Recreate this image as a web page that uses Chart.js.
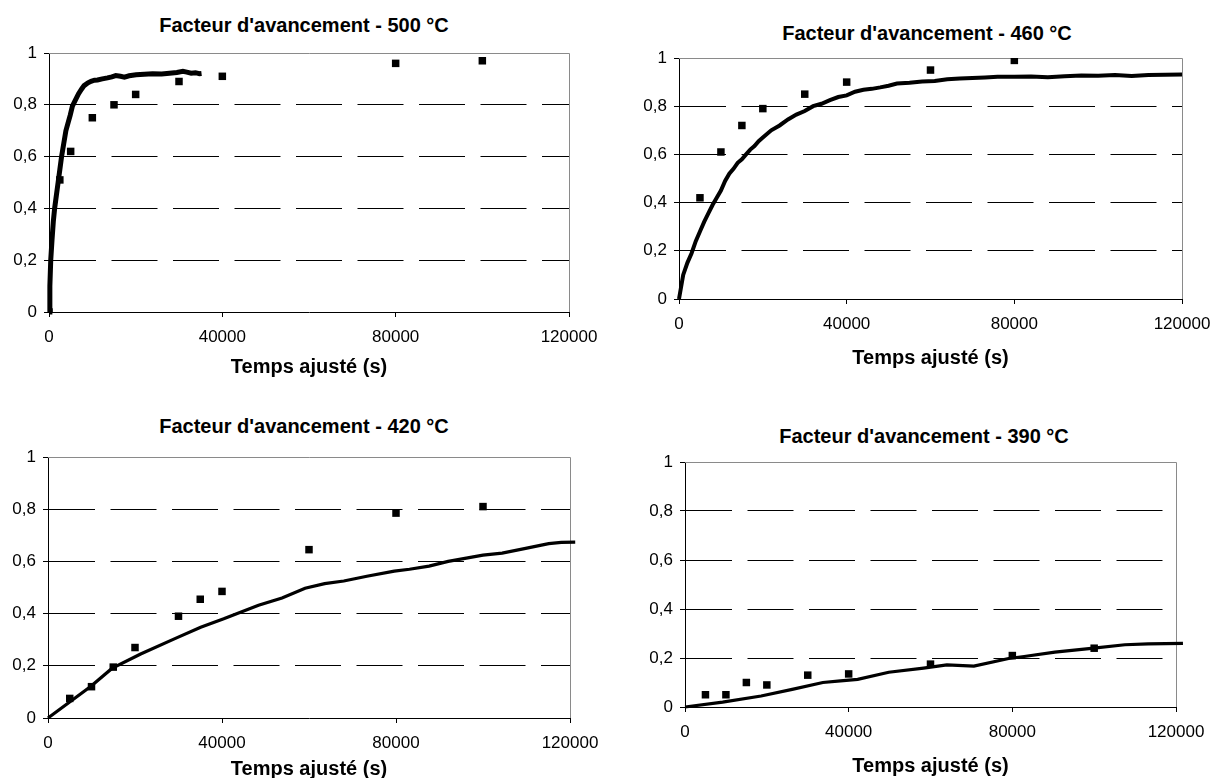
<!DOCTYPE html>
<html>
<head>
<meta charset="utf-8">
<script src="https://cdn.jsdelivr.net/npm/chart.js@4"></script>
<style>
    html, body { margin: 0; padding: 0; background: #fff; overflow: hidden; }
    body { width: 1212px; height: 778px; position: relative; }
    canvas { position: absolute; }
    .title {
        position: absolute;
        width: 500px;
        text-align: center;
        font: bold 20px 'Liberation Sans', Arial, sans-serif;
        line-height: 24px;
        color: #000;
        white-space: nowrap;
    }
</style>
</head>
<body>
<div class="title" id="title500"></div>
<div class="title" id="title460"></div>
<div class="title" id="title420"></div>
<div class="title" id="title390"></div>
<canvas id="chart500"></canvas>
<canvas id="chart460"></canvas>
<canvas id="chart420"></canvas>
<canvas id="chart390"></canvas>
<script>
// Axis ticks (shared by the four charts)
const xTicks = [0, 40000, 80000, 120000];
const yTickLabels = ['0', '0,2', '0,4', '0,6', '0,8', '1'];
const xAxisTitle = 'Temps ajusté (s)';

// 500 °C
const curve500Time = [0, 200, 400, 700, 1000, 1300, 1700, 2100, 2500, 2900, 3400, 3900, 4400, 4900, 5400, 6000, 6800, 7500, 8100, 9000, 9700, 10500, 11200, 12300, 13500, 14500, 15400, 16500, 17400, 18500, 20100, 22000, 23900, 26000, 27800, 29500, 30900, 31800, 32800, 33800, 34700, 35200];
const curve500Value = [0, 0.10, 0.20, 0.28, 0.35, 0.40, 0.45, 0.50, 0.55, 0.60, 0.65, 0.70, 0.73, 0.76, 0.795, 0.815, 0.842, 0.86, 0.874, 0.885, 0.891, 0.895, 0.896, 0.900, 0.904, 0.908, 0.913, 0.910, 0.907, 0.912, 0.916, 0.918, 0.920, 0.919, 0.922, 0.925, 0.929, 0.926, 0.922, 0.924, 0.920, 0.921];
const meas500Time = [0, 2500, 5000, 10000, 15000, 20000, 30000, 40000, 80000, 100000];
const meas500Value = [0, 0.51, 0.62, 0.75, 0.80, 0.84, 0.89, 0.91, 0.96, 0.97];

// 460 °C
const curve460Time = [0, 1000, 2000, 3000, 4000, 5000, 6000, 7000, 8000, 9000, 10000, 11000, 12000, 13000, 14000, 15000, 16000, 17000, 18000, 19000, 20000, 22000, 24000, 26000, 28000, 30000, 32000, 34000, 36000, 38000, 40000, 42000, 44000, 46000, 48000, 50000, 52000, 55000, 58000, 61000, 64000, 67000, 70000, 73000, 76000, 80000, 84000, 88000, 92000, 96000, 100000, 104000, 108000, 112000, 116000, 120000, 121500];
const curve460Value = [0, 0.10, 0.15, 0.19, 0.24, 0.28, 0.32, 0.355, 0.39, 0.42, 0.45, 0.49, 0.52, 0.54, 0.565, 0.58, 0.60, 0.62, 0.635, 0.655, 0.67, 0.70, 0.72, 0.745, 0.765, 0.78, 0.80, 0.81, 0.825, 0.838, 0.845, 0.86, 0.868, 0.872, 0.878, 0.885, 0.894, 0.897, 0.902, 0.905, 0.912, 0.915, 0.917, 0.919, 0.922, 0.922, 0.923, 0.920, 0.924, 0.927, 0.926, 0.929, 0.925, 0.929, 0.931, 0.932, 0.935];
const meas460Time = [5000, 10000, 15000, 20000, 30000, 40000, 60000, 80000];
const meas460Value = [0.42, 0.61, 0.72, 0.79, 0.85, 0.90, 0.95, 0.99];

// 420 °C
const curve420Time = [0, 9800, 14700, 21300, 29300, 35100, 40400, 48400, 53800, 59100, 63600, 68000, 73300, 79600, 83100, 87600, 92000, 100000, 104400, 109800, 115100, 118000, 121200];
const curve420Value = [0, 0.121, 0.19, 0.245, 0.305, 0.348, 0.38, 0.432, 0.46, 0.497, 0.515, 0.525, 0.543, 0.563, 0.570, 0.582, 0.600, 0.624, 0.632, 0.650, 0.668, 0.673, 0.674];
const meas420Time = [5000, 10000, 15000, 20000, 30000, 35000, 40000, 60000, 80000, 100000];
const meas420Value = [0.075, 0.12, 0.195, 0.27, 0.39, 0.455, 0.485, 0.645, 0.785, 0.81];

// 390 °C
const curve390Time = [0, 9200, 18600, 26200, 33700, 38000, 42200, 49800, 58300, 64000, 70600, 79100, 82900, 90400, 99900, 107500, 113200, 121700];
const curve390Value = [0, 0.02, 0.045, 0.072, 0.10, 0.107, 0.113, 0.142, 0.159, 0.172, 0.167, 0.198, 0.206, 0.224, 0.240, 0.254, 0.258, 0.26];
const meas390Time = [5000, 10000, 15000, 20000, 30000, 40000, 60000, 80000, 100000];
const meas390Value = [0.05, 0.05, 0.10, 0.09, 0.13, 0.135, 0.175, 0.21, 0.24];

Chart.defaults.font.family = "'Liberation Sans', Arial, sans-serif";
Chart.defaults.font.size = 17;
Chart.defaults.color = '#000';

const toPoints = (xs, ys) => xs.map((x, i) => ({x: x, y: ys[i]}));

// gray top and right edges of the plot area
const plotFrame = {
    id: 'plotFrame',
    beforeDatasetsDraw(chart) {
        const a = chart.chartArea;
        const ctx = chart.ctx;
        ctx.save();
        ctx.strokeStyle = '#8a8a8a';
        ctx.lineWidth = 1;
        ctx.beginPath();
        ctx.moveTo(a.left, Math.round(a.top) + 0.5);
        ctx.lineTo(Math.round(a.right) + 0.5, Math.round(a.top) + 0.5);
        ctx.lineTo(Math.round(a.right) + 0.5, a.bottom);
        ctx.stroke();
        ctx.restore();
    }
};

function makeChart(id, titleId, titleText, titleX, titleY, area, axisHeight, curve, meas, curveWidth) {
    const yAxisWidth = 44;
    const canvas = document.getElementById(id);
    const padL = 4, padT = 20, padR = 40;
    canvas.width = (area.right - area.left) + yAxisWidth + padL + padR;
    canvas.height = (area.bottom - area.top) + padT + axisHeight;
    canvas.style.left = (area.left - yAxisWidth - padL) + 'px';
    canvas.style.top = (area.top - padT) + 'px';

    const title = document.getElementById(titleId);
    title.textContent = titleText;
    title.style.left = (titleX - 250) + 'px';
    title.style.top = (titleY - 12) + 'px';

    new Chart(canvas.getContext('2d'), {
        type: 'scatter',
        data: {
            datasets: [
                {
                    label: 'modèle',
                    data: curve,
                    showLine: true,
                    borderColor: '#000',
                    borderWidth: curveWidth,
                    pointRadius: 0,
                    tension: 0,
                    clip: false
                },
                {
                    label: 'mesures',
                    data: meas,
                    pointStyle: 'rect',
                    pointRadius: 5.3,
                    backgroundColor: '#000',
                    borderWidth: 0
                }
            ]
        },
        options: {
            responsive: false,
            animation: false,
            layout: { padding: { left: padL, top: padT, right: padR, bottom: 0 } },
            plugins: {
                legend: { display: false },
                tooltip: { enabled: false }
            },
            scales: {
                x: {
                    type: 'linear',
                    min: 0,
                    max: 120000,
                    afterBuildTicks: scale => { scale.ticks = xTicks.map(v => ({value: v})); },
                    afterFit: scale => { scale.height = axisHeight; },
                    ticks: {
                        padding: 10,
                        maxRotation: 0,
                        callback: v => String(v)
                    },
                    grid: {
                        drawOnChartArea: false,
                        tickLength: 5,
                        tickColor: '#000'
                    },
                    border: { color: '#000', width: 1 },
                    title: {
                        display: true,
                        text: xAxisTitle,
                        font: { size: 20, weight: 'bold' },
                        padding: 0
                    }
                },
                y: {
                    min: 0,
                    max: 1,
                    afterFit: scale => { scale.width = yAxisWidth; },
                    ticks: {
                        stepSize: 0.2,
                        padding: 7,
                        callback: (v, i) => yTickLabels[i]
                    },
                    grid: {
                        color: ctx => (ctx.index === 0 || ctx.index === yTickLabels.length - 1) ? 'rgba(0,0,0,0)' : '#000',
                        tickColor: '#000',
                        tickLength: 5,
                        lineWidth: 1
                    },
                    border: { color: '#000', width: 1, dash: [46, 15.5] }
                }
            }
        },
        plugins: [plotFrame]
    });
}

makeChart('chart500', 'title500', "Facteur d'avancement - 500 °C", 304, 25,
    {left: 49, right: 569, top: 53, bottom: 312}, 67,
    toPoints(curve500Time, curve500Value), toPoints(meas500Time, meas500Value), 5);

makeChart('chart460', 'title460', "Facteur d'avancement - 460 °C", 927, 33,
    {left: 679, right: 1182, top: 58, bottom: 299}, 71,
    toPoints(curve460Time, curve460Value), toPoints(meas460Time, meas460Value), 4);

makeChart('chart420', 'title420', "Facteur d'avancement - 420 °C", 304, 426,
    {left: 48, right: 570, top: 457, bottom: 718}, 63,
    toPoints(curve420Time, curve420Value), toPoints(meas420Time, meas420Value), 3.2);

makeChart('chart390', 'title390', "Facteur d'avancement - 390 °C", 924, 436,
    {left: 685, right: 1176, top: 462, bottom: 707}, 71,
    toPoints(curve390Time, curve390Value), toPoints(meas390Time, meas390Value), 3.2);
</script>
</body>
</html>
